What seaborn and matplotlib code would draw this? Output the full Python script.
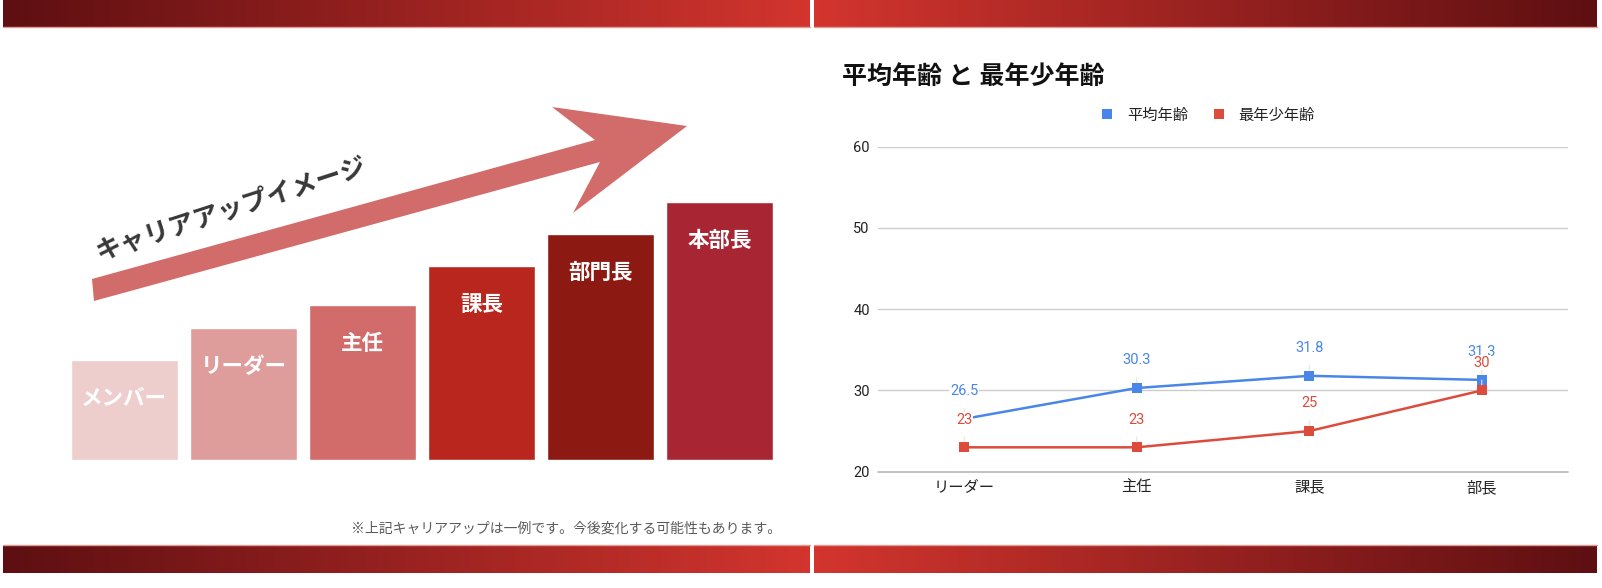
import numpy as np
import pandas as pd
import matplotlib
matplotlib.use("Agg")
import matplotlib.pyplot as plt
from matplotlib.colors import LinearSegmentedColormap
from matplotlib.patches import Polygon
from matplotlib.lines import Line2D
import seaborn as sns

W, H = 1602, 588

# left slide: career steps
levels = ["メンバー", "リーダー", "主任", "課長", "部門長", "本部長"]
level_heights = [100, 132, 155, 194, 226, 258]
level_colors = ["#edcecd", "#de9c9b", "#d16c6a", "#b9261e", "#8c1a12", "#a82633"]

# right slide: ages
positions = ["リーダー", "主任", "課長", "部長"]
avg_age = [26.5, 30.3, 31.8, 31.3]
min_age = [23, 23, 25, 30]
series = ["平均年齢", "最年少年齢"]
series_colors = ["#4a86e8", "#dc4b3c"]

sns.set_theme(style="white")
plt.rcParams["font.family"] = ["Roboto", "Noto Sans CJK JP", "DejaVu Sans"]

fig = plt.figure(figsize=(W / 100, H / 100), dpi=100)


def rect(x0, y0, x1, y1):
    # pixel box, y from the top -> figure fraction
    return [x0 / W, 1 - y1 / H, (x1 - x0) / W, (y1 - y0) / H]


def pt(x, y):
    return (x / W, 1 - y / H)


# red gradient banners
banner_cmap = LinearSegmentedColormap.from_list("banner", ["#5e0f12", "#d3352e"])
grad = np.linspace(0, 1, 256).reshape(1, -1)
for x0, x1, flip in [(3, 810, False), (814, 1597, True)]:
    for y0, y1, edge in [(0, 27, 27), (545, 573, 545)]:
        bax = fig.add_axes(rect(x0, y0, x1, y1))
        bax.imshow(grad[:, ::-1] if flip else grad, cmap=banner_cmap,
                   aspect="auto", extent=(0, 1, 0, 1))
        bax.set_axis_off()
        fig.add_artist(Line2D([x0 / W, x1 / W], [1 - edge / H] * 2,
                              color="#e39a94", lw=1))

# ---- left: steps ----
axL = fig.add_axes(rect(64.7, 40, 779.3, 459.5))
sns.barplot(x=levels, y=level_heights, hue=levels, palette=level_colors,
            width=0.9, saturation=1, legend=False, ax=axL)
axL.set_xlim(-0.5, 5.5)
axL.set_ylim(0, 419.5)
axL.set_axis_off()
for i, (lab, h) in enumerate(zip(levels, level_heights)):
    axL.annotate(lab, (i, h), xytext=(0, -28), textcoords="offset points",
                 ha="center", va="center", color="white", fontsize=15.5,
                 fontweight="bold", family=["Noto Sans CJK JP"])

arrow_pts = [(92, 279), (595, 140), (552, 107), (687, 126),
             (573, 213), (600, 162), (94, 301)]
fig.add_artist(Polygon([pt(x, y) for x, y in arrow_pts], closed=True,
                       transform=fig.transFigure, facecolor="#d16c6a",
                       edgecolor="none"))
fig.text(*pt(231, 209), "キャリアアップイメージ", rotation=18,
         rotation_mode="anchor", ha="center", va="center", fontsize=18.5,
         fontweight="bold", color="#383838", family=["Noto Sans CJK JP"])
fig.text(*pt(781, 529), "※上記キャリアアップは一例です。今後変化する可能性もあります。",
         ha="right", va="center", fontsize=10, color="#5a5a5a",
         family=["Noto Sans CJK JP"])

# ---- right: age chart ----
axR = fig.add_axes(rect(878, 146.7, 1568, 471.7))
df = pd.DataFrame({
    "役職": positions * 2,
    "年齢": avg_age + min_age,
    "系列": [series[0]] * 4 + [series[1]] * 4,
})
sns.lineplot(data=df, x="役職", y="年齢", hue="系列", palette=series_colors,
             marker="s", markersize=7, markeredgewidth=0, linewidth=1.8,
             sort=False, legend=False, ax=axR)
axR.set_xlim(-0.5, 3.5)
axR.set_ylim(20, 60)
axR.set_yticks([20, 30, 40, 50, 60])
axR.grid(axis="y", color="#cccccc", lw=1)
axR.grid(axis="x", visible=False)
axR.axhline(20, color="#bdbdbd", lw=1.3, zorder=0.5, clip_on=False)
axR.set_axisbelow(True)
for s in axR.spines.values():
    s.set_visible(False)
axR.set_xlabel("")
axR.set_ylabel("")
axR.tick_params(axis="y", length=0, pad=6, labelsize=10.5, labelcolor="#222222")
axR.tick_params(axis="x", length=0, pad=6, labelsize=11, labelcolor="#222222")

for vals, col in zip([avg_age, min_age], series_colors):
    for i, v in enumerate(vals):
        axR.annotate(f"{v:g}", (i, v), xytext=(0, 20), textcoords="offset points",
                     ha="center", va="center", fontsize=10.5, color=col,
                     zorder=5,
                     bbox=dict(boxstyle="square,pad=0.05", fc="white", ec="none"),
                     arrowprops=dict(arrowstyle="-", color="#e3e3e3", lw=0.8,
                                     shrinkA=7, shrinkB=4))

handles = [Line2D([], [], ls="", marker="s", markersize=7, markeredgewidth=0,
                  color=c) for c in series_colors]
fig.legend(handles, series, loc="center", bbox_to_anchor=pt(1208, 115.7),
           ncol=2, frameon=False, fontsize=11, handlelength=0.8,
           handletextpad=0.9, columnspacing=1.6, labelcolor="#222222")

fig.text(*pt(842, 77), "平均年齢 と 最年少年齢", ha="left", va="center",
         fontsize=18, fontweight="bold", color="#111111")

fig.savefig("out.png", dpi=100)
